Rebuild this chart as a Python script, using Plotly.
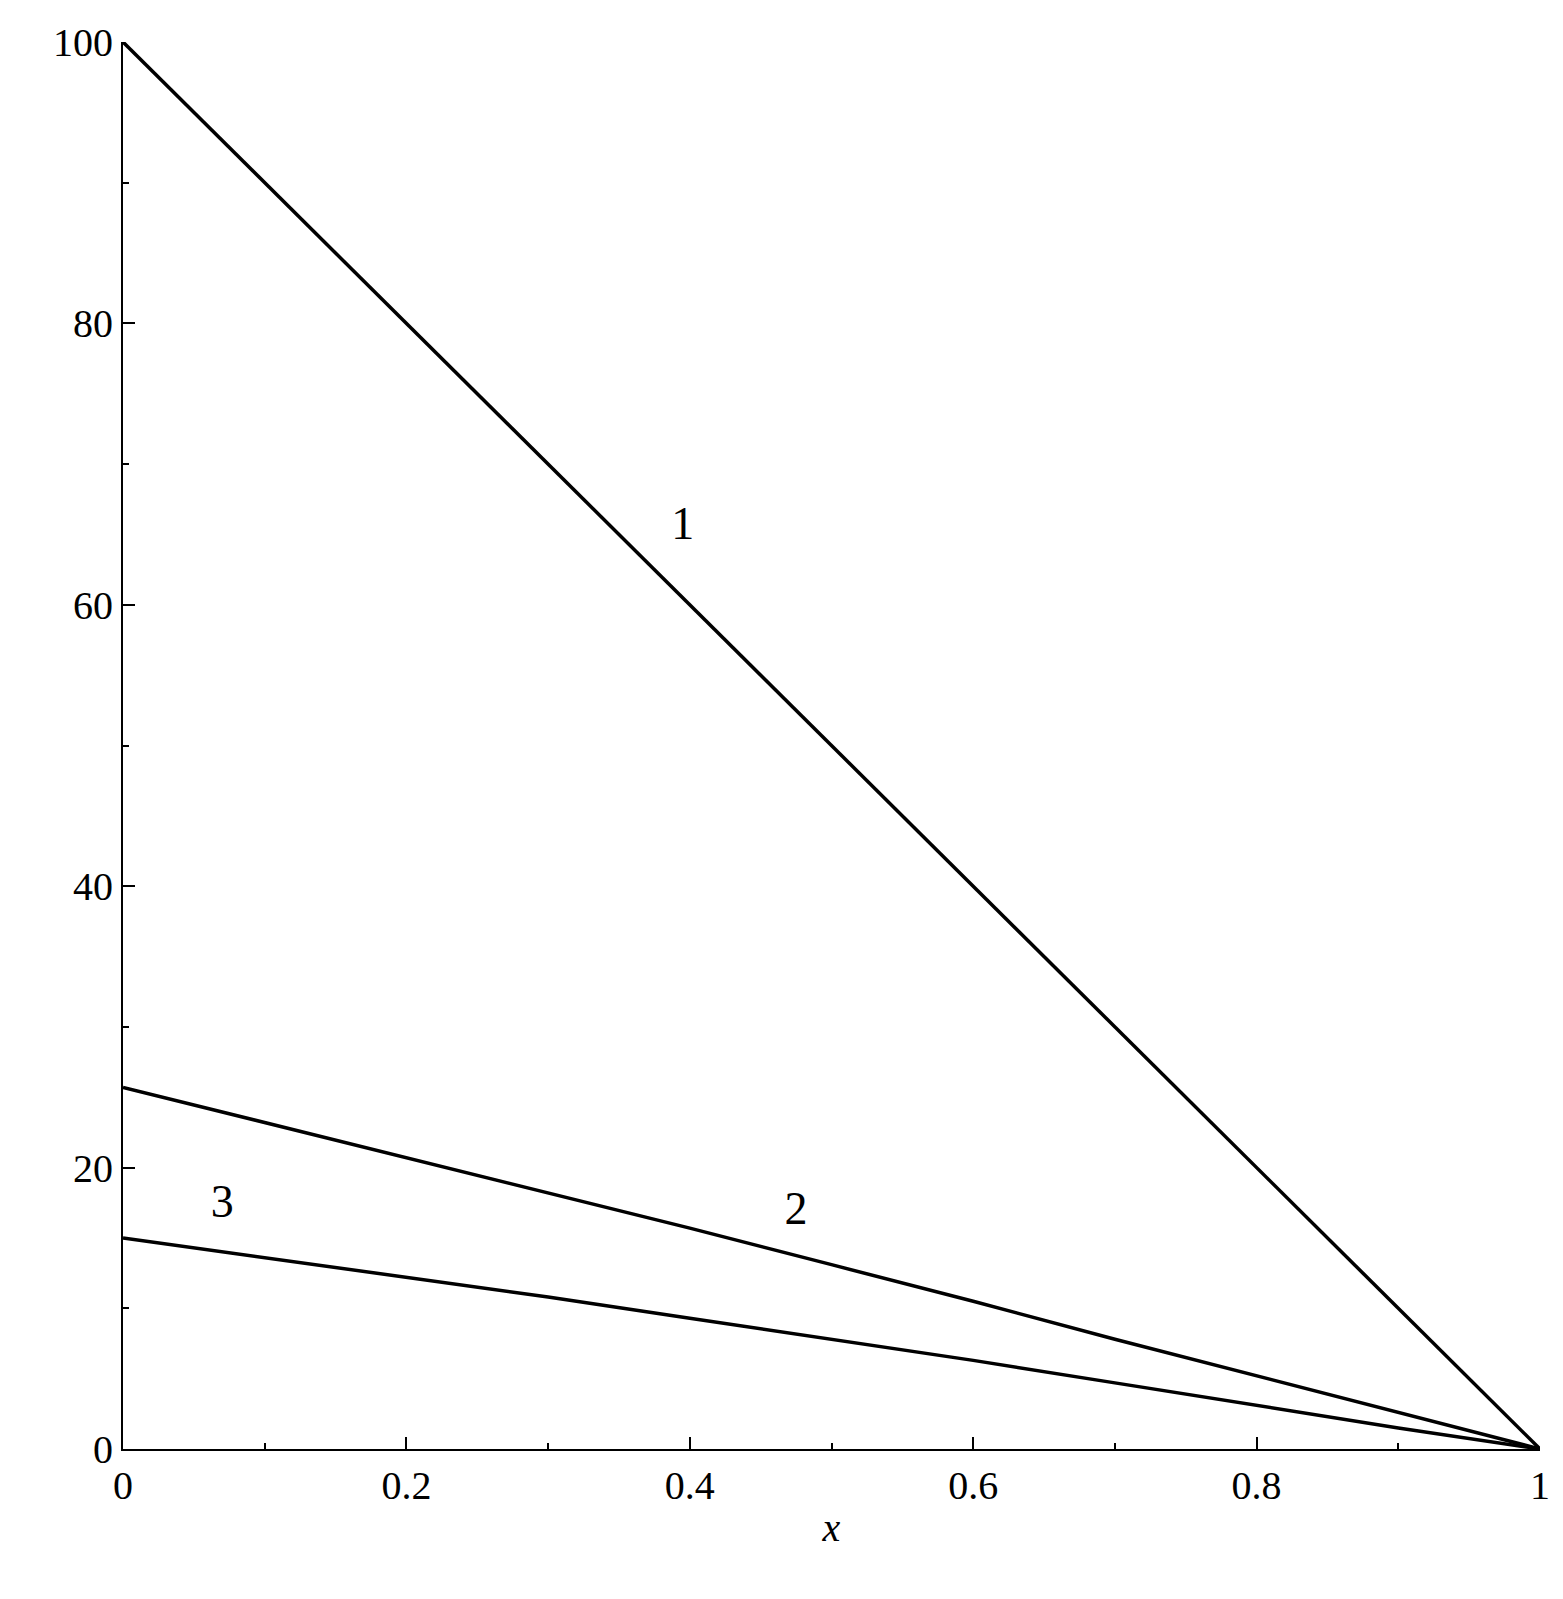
import plotly.graph_objects as go

x_vals = [0, 0.1, 0.2, 0.3, 0.4, 0.5, 0.6, 0.7, 0.8, 0.9, 1.0]
curve1 = [100, 90, 80, 70, 60, 50, 40, 30, 20, 10, 0]
curve2 = [25.7, 23.2, 20.7, 18.2, 15.7, 13.1, 10.5, 7.8, 5.2, 2.6, 0]
curve3 = [15.0, 13.6, 12.2, 10.8, 9.3, 7.8, 6.3, 4.7, 3.1, 1.5, 0]
labels = ["1", "2", "3"]
label_x = [0.395, 0.475, 0.07]
label_y = [65.5, 16.8, 17.3]

fig = go.Figure()
for ys in [curve1, curve2, curve3]:
    fig.add_trace(go.Scatter(x=x_vals, y=ys, mode="lines",
                             line=dict(color="black", width=3.5), showlegend=False))
fig.add_trace(go.Scatter(x=label_x, y=label_y, text=labels, mode="text",
                         textfont=dict(size=46, color="black", family="Liberation Serif"),
                         showlegend=False))

axis_common = dict(showgrid=False, zeroline=False, showline=True, linecolor="black",
                   linewidth=2, ticks="inside", ticklen=12, tickwidth=1.5, tickcolor="black",
                   tickfont=dict(size=40, family="Liberation Serif", color="black"))
fig.update_xaxes(range=[0, 1], tickvals=[0, 0.2, 0.4, 0.6, 0.8, 1],
                 ticktext=["0", "0.2", "0.4", "0.6", "0.8", "1"],
                 minor=dict(dtick=0.1, ticks="inside", ticklen=6, tickcolor="black"),
                 title=dict(text="<i>x</i>", font=dict(size=40, family="Liberation Serif", color="black"), standoff=6),
                 **axis_common)
fig.update_yaxes(range=[0, 100], tickvals=[0, 20, 40, 60, 80, 100],
                 minor=dict(dtick=10, ticks="inside", ticklen=6, tickcolor="black"),
                 **axis_common)
fig.update_layout(width=1563, height=1599, plot_bgcolor="white", paper_bgcolor="white",
                  margin=dict(l=115, r=31, t=29, b=158))
fig.write_html("out.html")
